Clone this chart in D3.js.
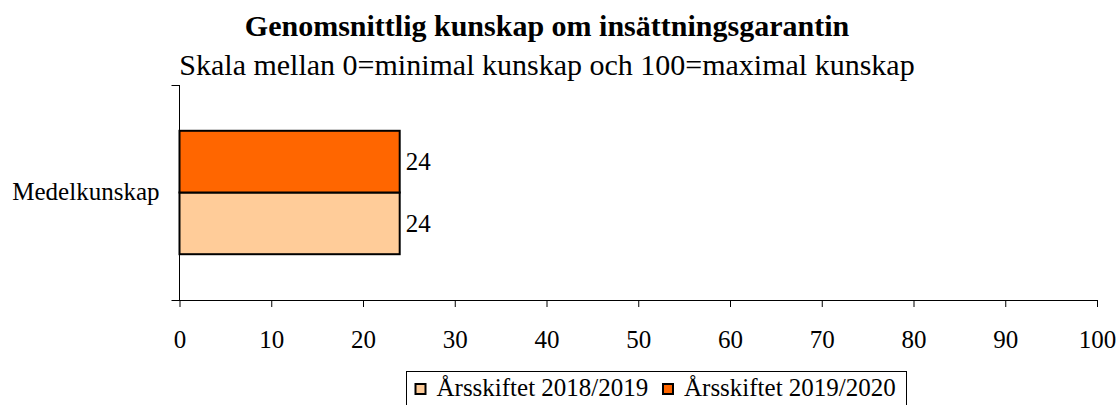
<!DOCTYPE html>
<html>
<head>
<meta charset="utf-8">
<script src="https://cdn.jsdelivr.net/npm/d3@7"></script>
<style>
  body { margin: 0; background: #fff; }
  text { font-family: "Liberation Serif", "Times New Roman", serif; fill: #000; }
</style>
</head>
<body>
<div class="chart"></div>
<script>
"use strict";

const categories = ["Medelkunskap"];
const seriesNames = ["Årsskiftet 2018/2019", "Årsskiftet 2019/2020"];
const seriesColors = ["#ffcc99", "#ff6600"];
const values2018 = [24];
const values2019 = [24];
const xTicks = [0, 10, 20, 30, 40, 50, 60, 70, 80, 90, 100];

const width = 1118, height = 405;
const margin = { left: 179.5, right: 21, top: 85, bottom: 105 };

const svg = d3.select(".chart").append("svg")
    .attr("width", width)
    .attr("height", height);

svg.append("text")
    .attr("x", 547).attr("y", 36)
    .attr("text-anchor", "middle")
    .style("font-size", "30px").style("font-weight", "bold")
    .text("Genomsnittlig kunskap om insättningsgarantin");

svg.append("text")
    .attr("x", 547).attr("y", 75)
    .attr("text-anchor", "middle")
    .style("font-size", "30px")
    .text("Skala mellan 0=minimal kunskap och 100=maximal kunskap");

const x = d3.scaleLinear().domain([0, 100]).range([margin.left, width - margin.right]);
const y = d3.scaleBand().domain(categories).range([margin.top, height - margin.bottom]);
// series drawn bottom (2018/2019) to top (2019/2020)
const inner = d3.scaleBand().domain([1, 0]).range([0, y.bandwidth()]).paddingOuter(0.742).paddingInner(0);

const data = [];
categories.forEach((c, i) => {
    data.push({ cat: c, s: 0, v: values2018[i] });
    data.push({ cat: c, s: 1, v: values2019[i] });
});

// x axis
const xAxis = svg.append("g")
    .attr("transform", `translate(0,${height - margin.bottom})`)
    .call(d3.axisBottom(x).tickValues(xTicks).tickSize(7).tickSizeOuter(0).tickPadding(23));
xAxis.select(".domain").attr("d", `M${margin.left - 8},0.5H${x(100)}`).attr("stroke", "#000");
xAxis.selectAll("text").style("font-size", "25px").attr("font-family", null);
xAxis.selectAll("line").attr("stroke", "#000");

// y axis
const yAxis = svg.append("g")
    .attr("transform", `translate(${margin.left},0)`);
yAxis.append("line")
    .attr("x1", 0).attr("x2", 0)
    .attr("y1", margin.top).attr("y2", height - margin.bottom)
    .attr("stroke", "#000");
yAxis.append("line")
    .attr("x1", -8).attr("x2", 0)
    .attr("y1", margin.top + 0.5).attr("y2", margin.top + 0.5)
    .attr("stroke", "#000");
yAxis.selectAll(".cat").data(categories).enter().append("text")
    .attr("class", "cat")
    .attr("x", -20)
    .attr("y", d => y(d) + y.bandwidth() / 2)
    .attr("dy", "0.28em")
    .attr("text-anchor", "end")
    .style("font-size", "25px")
    .text(d => d);

// bars
svg.selectAll(".bar").data(data).enter().append("rect")
    .attr("class", "bar")
    .attr("x", x(0))
    .attr("y", d => y(d.cat) + inner(d.s))
    .attr("width", d => x(d.v) - x(0))
    .attr("height", inner.bandwidth())
    .attr("fill", d => seriesColors[d.s])
    .attr("stroke", "#000")
    .attr("stroke-width", 2);

svg.selectAll(".lbl").data(data).enter().append("text")
    .attr("class", "lbl")
    .attr("x", d => x(d.v) + 6)
    .attr("y", d => y(d.cat) + inner(d.s) + inner.bandwidth() / 2)
    .attr("dy", "0.33em")
    .style("font-size", "25px")
    .text(d => d.v);

// legend
const legend = svg.append("g").attr("transform", "translate(406.5,371.5)");
legend.append("rect")
    .attr("width", 500).attr("height", 40)
    .attr("fill", "#fff").attr("stroke", "#000");
const items = legend.selectAll(".item").data(seriesNames).enter().append("g")
    .attr("transform", (d, i) => `translate(${i === 0 ? 9 : 256.5},12.5)`);
items.append("rect")
    .attr("width", 10).attr("height", 10)
    .attr("fill", (d, i) => seriesColors[i])
    .attr("stroke", "#000").attr("stroke-width", 2);
items.append("text")
    .attr("x", 21).attr("y", 12)
    .style("font-size", "25px")
    .text(d => d);
</script>
</body>
</html>
